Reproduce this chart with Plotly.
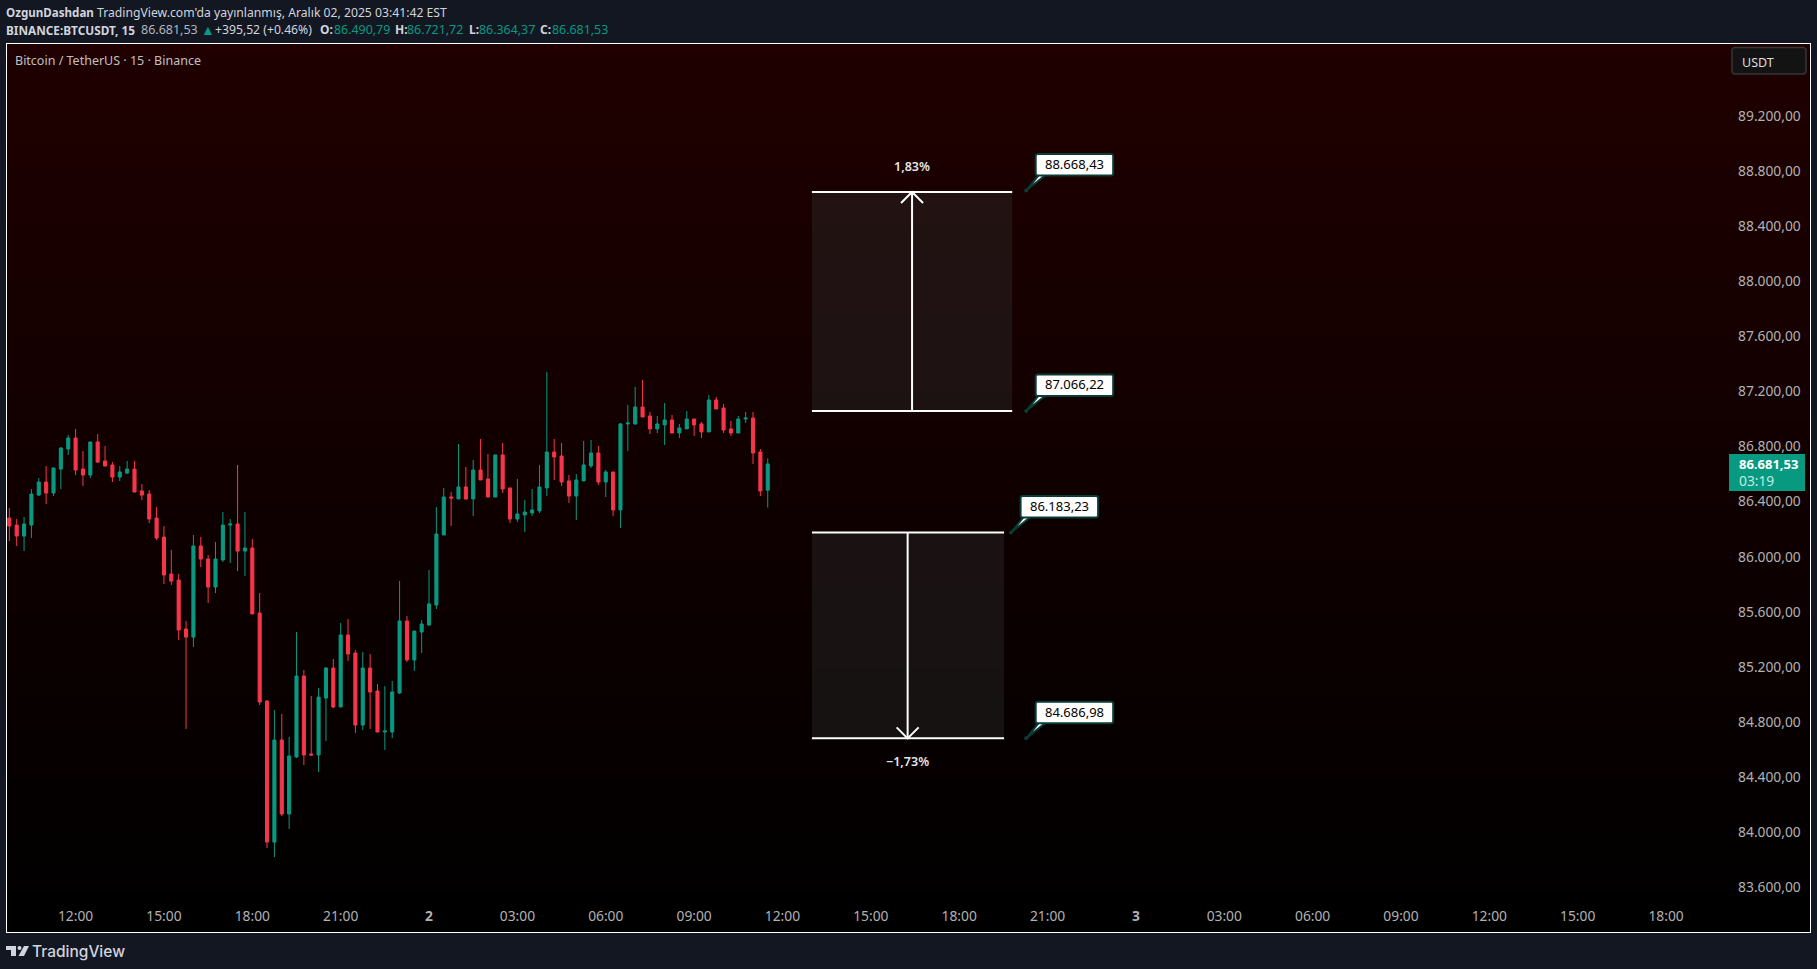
import pandas as pd
import plotly.graph_objects as go

# BTCUSDT 15m candles, first bar is Dec 1 09:45
opens = [86288, 86237, 86157, 86237, 86455, 86550, 86470, 86644, 86790, 86870, 86644, 86601, 86841, 86703, 86674, 86586,
         86615, 86644, 86485, 86463, 86288, 86150, 85881, 85838, 85482, 85423, 86085, 85990, 85787, 85983, 86237, 86245,
         86048, 86070, 85598, 84958, 83933, 84675, 84137, 84551, 85140, 84573, 84566, 84980, 85198, 84915, 85438, 85307,
         84784, 85198, 85031, 84733, 84733, 85017, 85540, 85257, 85460, 85511, 85656, 86165, 86441, 86427, 86514, 86427,
         86637, 86572, 86441, 86747, 86507, 86281, 86310, 86325, 86340, 86507, 86768, 86739, 86558, 86448, 86558, 86667,
         86761, 86550, 86623, 86347, 86972, 86972, 87095, 87030, 86936, 86965, 87001, 86906, 86936, 87008, 86972, 86914,
         87146, 87088, 86936, 86906, 87008, 87015, 86768, 86490.79]
highs = [86361, 86281, 86296, 86499, 86579, 86666, 86652, 86804, 86892, 86935, 86775, 86841, 86899, 86812, 86695, 86666,
         86703, 86703, 86535, 86492, 86368, 86230, 86056, 85881, 85540, 86165, 86150, 86019, 86114, 86332, 86281, 86674,
         86332, 86136, 85743, 84966, 84893, 84864, 84697, 85460, 85184, 84995, 85053, 85205, 85264, 85525, 85554, 85329,
         85314, 85300, 85082, 85067, 85104, 85831, 85576, 85467, 85547, 85911, 86369, 86507, 86478, 86826, 86659, 86710,
         86863, 86754, 86747, 86834, 86507, 86572, 86420, 86499, 86674, 87350, 86863, 86834, 86601, 86608, 86848, 86856,
         86812, 86637, 86623, 86979, 87110, 87241, 87292, 87059, 87030, 87124, 87037, 86972, 87066, 87008, 86986, 87183,
         87168, 87117, 86994, 87030, 87059, 87059, 86790, 86721.72]
lows = [86121, 86085, 86048, 86143, 86448, 86390, 86448, 86499, 86746, 86601, 86521, 86579, 86688, 86666, 86550, 86557,
        86608, 86477, 86419, 86252, 86128, 85809, 85801, 85402, 84755, 85351, 85932, 85671, 85743, 85969, 85961, 85903,
        85867, 85591, 84929, 83890, 83824, 84122, 84028, 84544, 84493, 84559, 84442, 84668, 84907, 84915, 85249, 84726,
        84748, 84755, 84733, 84602, 84689, 85009, 85242, 85177, 85307, 85504, 85627, 86165, 86231, 86427, 86420, 86303,
        86565, 86441, 86441, 86470, 86252, 86260, 86187, 86303, 86325, 86448, 86565, 86521, 86398, 86274, 86558, 86652,
        86528, 86441, 86303, 86216, 86776, 86965, 87023, 86899, 86906, 86819, 86906, 86870, 86936, 86885, 86870, 86914,
        87081, 86906, 86885, 86906, 86979, 86681, 86448, 86364.37]
closes = [86230, 86157, 86245, 86463, 86550, 86470, 86652, 86797, 86870, 86637, 86601, 86841, 86695, 86666, 86586, 86623,
          86644, 86477, 86455, 86281, 86143, 85874, 85830, 85474, 85423, 86085, 85990, 85787, 85990, 86237, 86245, 86048,
          86070, 85591, 84951, 83933, 84675, 84137, 84559, 85140, 84566, 84566, 84987, 85198, 84915, 85438, 85300, 84784,
          85198, 85024, 84733, 84740, 85024, 85540, 85257, 85467, 85518, 85664, 86172, 86441, 86434, 86514, 86427, 86637,
          86565, 86441, 86747, 86499, 86281, 86318, 86332, 86347, 86514, 86768, 86732, 86550, 86448, 86565, 86674, 86761,
          86550, 86623, 86347, 86972, 86979, 87095, 87023, 86936, 86972, 87001, 86906, 86943, 87008, 86965, 86914, 87146,
          87081, 86928, 86906, 87008, 87015, 86761, 86485, 86681.53]

price_ticks = [89200, 88800, 88400, 88000, 87600, 87200, 86800, 86400, 86000, 85600, 85200, 84800, 84400, 84000, 83600]
price_labels = ['89.200,00', '88.800,00', '88.400,00', '88.000,00', '87.600,00', '87.200,00', '86.800,00', '86.400,00',
                '86.000,00', '85.600,00', '85.200,00', '84.800,00', '84.400,00', '84.000,00', '83.600,00']
time_labels = ['12:00', '15:00', '18:00', '21:00', '<b>2</b>', '03:00', '06:00', '09:00', '12:00', '15:00', '18:00', '21:00',
               '<b>3</b>', '03:00', '06:00', '09:00', '12:00', '15:00', '18:00']

# measure zones: top / bottom level, bar positions of left, right and arrow
zone_tops = [88658, 86183.23]
zone_bottoms = [87066.22, 84686.98]
zone_left = [109, 109]
zone_right = [136.2, 135.1]
zone_arrow = [122.6, 122]
# price callouts: bar position of the dot, level, text
callout_bars = [138.1, 138.1, 136.05, 138.1]
callout_levels = [88668.43, 87066.22, 86183.23, 84686.98]
callout_texts = ['88.668,43', '87.066,22', '86.183,23', '84.686,98']

WIDTH, HEIGHT = 1817, 969
LEFT, RIGHT, TOP, BOTTOM = 7, 7, 44, 37
FONT = 'Noto Sans'
UP, DOWN = '#089981', '#F7364A'
start = pd.Timestamp('2025-12-01 09:45')


def bar_time(i):
    return start + pd.Timedelta(minutes=15) * i


def pos_x(x):
    return (x - LEFT) / (WIDTH - LEFT - RIGHT)


def pos_y(y):
    return 1 - (y - TOP) / (HEIGHT - TOP - BOTTOM)


def page_text(x, y, text, size=13, color='#d1d4dc', family=FONT, weight=None):
    font = dict(family=family, size=size, color=color)
    if weight:
        font['weight'] = weight
    fig.add_annotation(xref='paper', yref='paper', x=pos_x(x), y=pos_y(y), text=text, showarrow=False,
                       xanchor='left', yanchor='middle', borderpad=0, font=font)


def round_box(x0, y0, x1, y1, r):
    return (f'M {x0 + r} {y0} L {x1 - r} {y0} Q {x1} {y0} {x1} {y0 + r} L {x1} {y1 - r} Q {x1} {y1} {x1 - r} {y1} '
            f'L {x0 + r} {y1} Q {x0} {y1} {x0} {y1 - r} L {x0} {y0 + r} Q {x0} {y0} {x0 + r} {y0} Z')


def page_polygon(points, color, border=None):
    path = 'M ' + ' L '.join(f'{pos_x(x)} {pos_y(y)}' for x, y in points) + ' Z'
    line = dict(color=border, width=1.5) if border else dict(width=0)
    fig.add_shape(type='path', xref='paper', yref='paper', path=path, fillcolor=color, line=line)


times = [bar_time(i) for i in range(len(opens))]

fig = go.Figure()

# background gradient, dark red at the top fading to black
fig.add_trace(go.Heatmap(
    x=[bar_time(-2), bar_time(250)], y=[83279.5, 89733.5], z=[[0, 0], [1, 1]],
    zsmooth='best', showscale=False, hoverinfo='skip',
    colorscale=[[0, '#000000'], [1, '#200000']],
))

fig.add_trace(go.Candlestick(
    x=times, open=opens, high=highs, low=lows, close=closes,
    whiskerwidth=0, showlegend=False,
    increasing=dict(line=dict(color=UP, width=1), fillcolor=UP),
    decreasing=dict(line=dict(color=DOWN, width=1), fillcolor=DOWN),
))

# measure zones
for top, bottom, left, right, arrow in zip(zone_tops, zone_bottoms, zone_left, zone_right, zone_arrow):
    fig.add_shape(type='rect', x0=bar_time(left), x1=bar_time(right), y0=bottom, y1=top,
                  fillcolor='rgba(47,47,47,0.38)', line_width=0)
    for level in (top, bottom):
        fig.add_shape(type='line', x0=bar_time(left), x1=bar_time(right), y0=level, y1=level,
                      line=dict(color='white', width=2))
    fig.add_shape(type='line', x0=bar_time(arrow), x1=bar_time(arrow), y0=bottom, y1=top,
                  line=dict(color='white', width=2))

fig.add_shape(type='path', xsizemode='pixel', ysizemode='pixel', xanchor=bar_time(zone_arrow[0]), yanchor=zone_tops[0],
              path='M -11 -11 L 0 0 L 11 -11', line=dict(color='white', width=2))
fig.add_shape(type='path', xsizemode='pixel', ysizemode='pixel', xanchor=bar_time(zone_arrow[1]), yanchor=zone_bottoms[1],
              path='M -11 11 L 0 0 L 11 11', line=dict(color='white', width=2))
fig.add_annotation(x=bar_time(zone_arrow[0]), y=zone_tops[0], yshift=25, text='1,83%', showarrow=False,
                   font=dict(family=FONT, size=12.5, color='#e6e6e6', weight=600))
fig.add_annotation(x=bar_time(zone_arrow[1]), y=zone_bottoms[1], yshift=-23, text='−1,73%', showarrow=False,
                   font=dict(family=FONT, size=12.5, color='#e6e6e6', weight=600))

# callouts
for bar, level, text in zip(callout_bars, callout_levels, callout_texts):
    anchor = dict(xsizemode='pixel', ysizemode='pixel', xanchor=bar_time(bar), yanchor=level)
    fig.add_shape(type='path', path='M 0 0 L 13 16 L 20 16 Z', fillcolor='white',
                  line=dict(color='#0a3b36', width=2), **anchor)
    fig.add_shape(type='path', path=round_box(9.5, 15, 87, 36.5, 2), fillcolor='white',
                  line=dict(color='#0a3b36', width=2), **anchor)
    fig.add_shape(type='circle', x0=-2, x1=2, y0=-2, y1=2, fillcolor='#0a3b36', line_width=0, **anchor)
    fig.add_annotation(x=bar_time(bar), y=level, xshift=48.2, yshift=26.5, text=text, showarrow=False,
                       font=dict(family=FONT, size=13, color='#000000'))

# header, legend and footer
page_text(5, 13, '<b>OzgunDashdan</b>', size=11.6)
page_text(96, 13, "TradingView.com'da yayınlanmış, Aralık 02, 2025 03:41:42 EST", size=12.2)
page_text(5, 29.5, '<b>BINANCE:BTCUSDT, 15</b>', size=11.8)
page_text(140, 29.5, '86.681,53', size=12.5, color='#b2b5be')
page_text(199.5, 29.5, '▲', size=14, color=UP)
page_text(214, 29.5, '+395,52 (+0.46%)', size=12.2)
page_text(319, 29.5, '<b>O:</b>', size=12)
page_text(332.5, 29.5, '86.490,79', size=12.4, color=UP)
page_text(394, 29.5, '<b>H:</b>', size=12)
page_text(406, 29.5, '86.721,72', size=12.4, color=UP)
page_text(468, 29.5, '<b>L:</b>', size=12)
page_text(478, 29.5, '86.364,37', size=12.4, color=UP)
page_text(538.5, 29.5, '<b>C:</b>', size=12)
page_text(551, 29.5, '86.681,53', size=12.4, color=UP)
page_text(14, 61, 'Bitcoin / TetherUS · 15 · Binance', size=12.5, color='#c0c0c0')

# USDT button
page_polygon([(1734, 47.5), (1804, 47.5), (1806, 49.5), (1806, 72), (1804, 74), (1734, 74), (1732, 72), (1732, 49.5)],
             '#131313', '#363636')
page_text(1741, 62, 'USDT', size=12.5, color='#dddddd')

# last price tag
page_polygon([(1729, 454), (1805, 454), (1805, 491), (1729, 491)], UP)
page_text(1738, 464, '<b>86.681,53</b>', size=13, color='white')
page_text(1738, 480, '03:19', size=13.8, color='#c4ebe2')

# footer logo
page_polygon([(6, 946), (16, 946), (16, 956), (11, 956), (11, 950), (6, 950)], '#d1d4dc')
page_polygon([(24, 946), (29, 946), (24, 956), (18.5, 956)], '#d1d4dc')
fig.add_shape(type='circle', xref='paper', yref='paper', x0=pos_x(17.5), x1=pos_x(21.5), y0=pos_y(950), y1=pos_y(946),
              fillcolor='#d1d4dc', line_width=0)
page_text(30.5, 951, 'TradingView', size=15.5, family='Inter', weight=500)

fig.update_layout(
    width=WIDTH, height=HEIGHT,
    margin=dict(l=LEFT, r=RIGHT, t=TOP, b=BOTTOM, autoexpand=False),
    paper_bgcolor='#131722', plot_bgcolor='#000000',
    showlegend=False, hovermode=False, boxgap=0.4,
    font=dict(family=FONT),
)
fig.update_xaxes(
    type='date', range=[bar_time(-0.316), bar_time(244.55)],
    rangeslider_visible=False, showgrid=False, zeroline=False,
    showline=True, mirror=True, linecolor='white', linewidth=1,
    tickmode='array', tickvals=list(pd.date_range('2025-12-01 12:00', periods=len(time_labels), freq='3h')),
    ticktext=time_labels, ticklabelposition='inside', ticklabelstandoff=8, ticks='',
    tickfont=dict(family=FONT, size=13.8, color='#b2b2b2'),
)
fig.update_yaxes(
    side='right', range=[83279.5, 89733.5],
    showgrid=False, zeroline=False,
    showline=True, mirror=True, linecolor='white', linewidth=1,
    tickmode='array', tickvals=price_ticks, ticktext=price_labels,
    ticklabelposition='inside', ticklabelstandoff=9, ticklabelshift=-1, ticks='',
    tickfont=dict(family=FONT, size=13.8, color='#b2b2b2'),
)

fig.write_html('out.html', config=dict(displayModeBar=False),
               post_script="document.body.style.margin='0';document.body.style.background='#131722';")
